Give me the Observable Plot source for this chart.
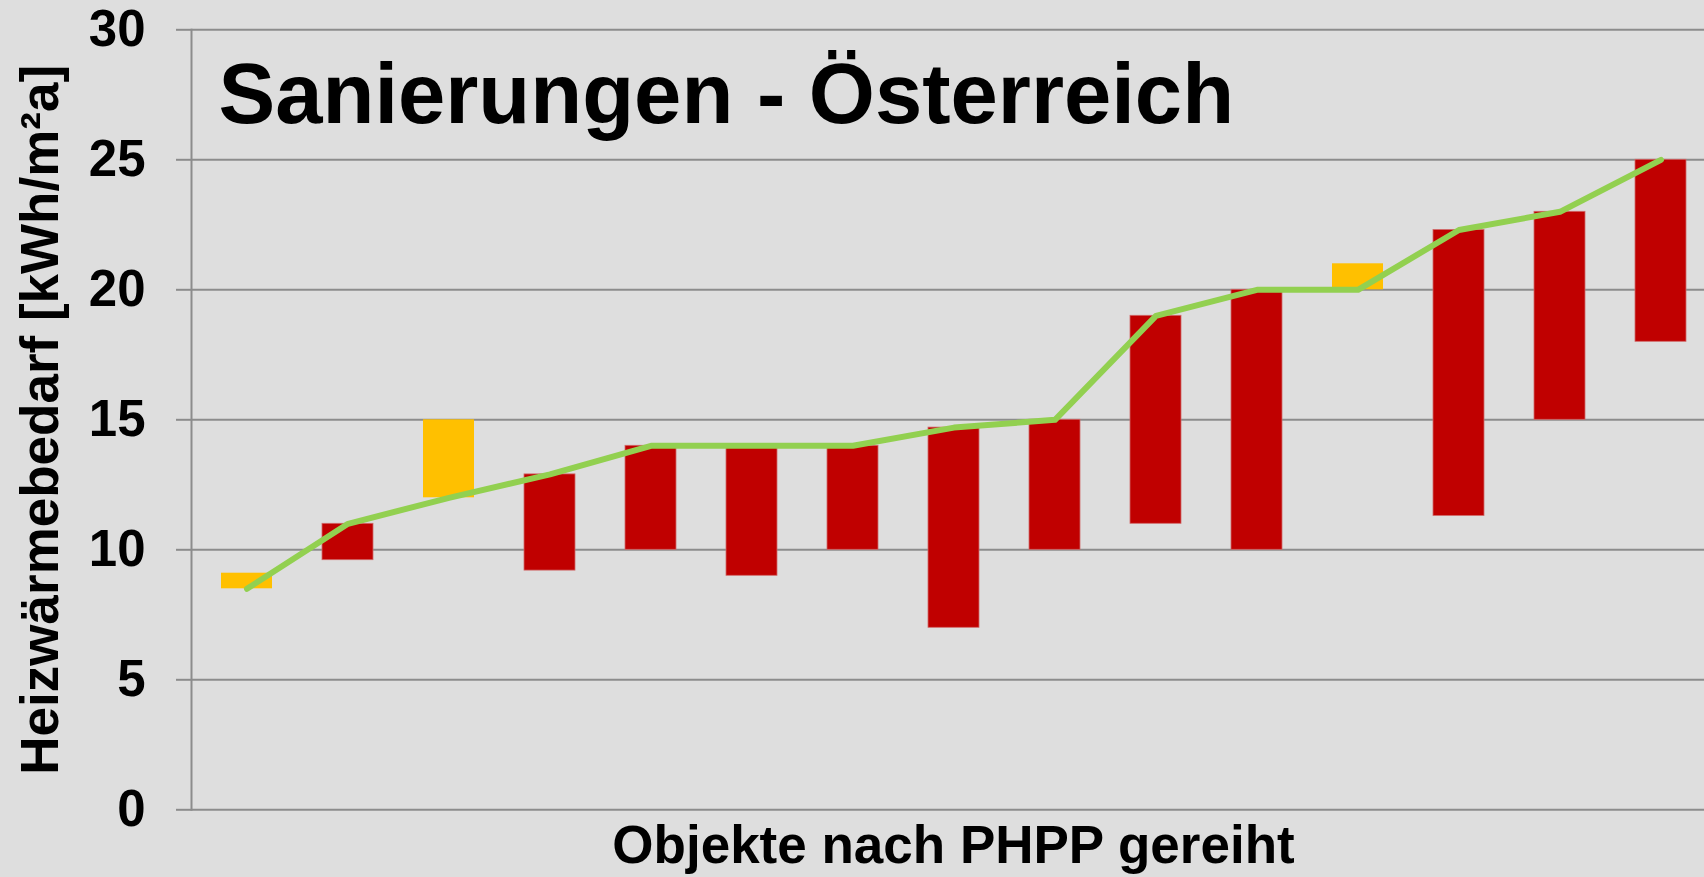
<!DOCTYPE html>
<html>
<head>
<meta charset="utf-8">
<script src="https://cdn.jsdelivr.net/npm/d3@7"></script>
<script src="https://cdn.jsdelivr.net/npm/@observablehq/plot@0.6"></script>
<style>
  html, body { margin: 0; padding: 0; background: #dedede; overflow: hidden; }
</style>
</head>
<body>
<div id="chart"></div>
<script>
// Data
const objekte  = ["1","2","3","4","5","6","7","8","9","10","11","12","13","14","15"];
const phpp     = [8.5, 11, 12, 12.9, 14, 14, 14, 14.7, 15, 19, 20, 20, 22.3, 23, 25];   // green line (PHPP)
const gemessen = [9.1, 9.6, 15, 9.2, 10, 9, 10, 7, 10, 11, 10, 21, 11.3, 15, 18];      // other end of each bar
const yTicks   = [0, 5, 10, 15, 20, 25, 30];

const title  = "Sanierungen - Österreich";
const xLabel = "Objekte nach PHPP gereiht";
const yLabel = "Heizwärmebedarf [kWh/m²a]";

const rows = objekte.map((o, i) => ({
  objekt: o,
  phpp: phpp[i],
  gemessen: gemessen[i],
  lo: Math.min(phpp[i], gemessen[i]),
  hi: Math.max(phpp[i], gemessen[i]),
  hoeher: gemessen[i] > phpp[i]
}));

const RED = "#c00000", YELLOW = "#ffc000", GREEN = "#92d050", GRID = "#8c8c8c";
const FONT = "'Liberation Sans', Arial, Helvetica, sans-serif";

const chart = Plot.plot({
  width: 1704,
  height: 877,
  marginLeft: 191,
  marginRight: -11,
  marginTop: 29.3,
  marginBottom: 67.7,
  style: { background: "#dedede", fontFamily: FONT, color: "black", overflow: "hidden" },
  x: { type: "band", domain: objekte, paddingInner: 0.5, paddingOuter: 0.25, axis: null },
  y: { domain: [0, 30], axis: null },
  marks: [
    Plot.gridY(yTicks, { stroke: GRID, strokeOpacity: 1, strokeWidth: 2 }),
    Plot.axisY({
      ticks: yTicks, tickSize: 15, tickPadding: 31, label: null,
      stroke: GRID, strokeWidth: 2, color: "black",
      fontSize: 51, fontWeight: "bold", tickFormat: d => String(d)
    }),
    Plot.frame({ anchor: "left", stroke: GRID, strokeWidth: 2 }),
    Plot.barY(rows.filter(d => !d.hoeher), { x: "objekt", y1: "lo", y2: "hi", fill: RED, stroke: "#d06a6a", strokeWidth: 0.8 }),
    Plot.barY(rows.filter(d => d.hoeher), { x: "objekt", y1: "lo", y2: "hi", fill: YELLOW }),
    Plot.lineY(rows, { x: "objekt", y: "phpp", stroke: GREEN, strokeWidth: 6, strokeLinejoin: "round", strokeLinecap: "round" }),
    Plot.text([title], {
      text: d => d, frameAnchor: "top-left", textAnchor: "start", lineAnchor: "bottom",
      dx: 27, dy: 92.7, fontSize: 85, fontWeight: "bold", fill: "black"
    }),
    Plot.text([xLabel], {
      text: d => d, frameAnchor: "bottom", textAnchor: "middle", lineAnchor: "bottom",
      dy: 53.5, fontSize: 53, fontWeight: "bold", fill: "black"
    }),
    Plot.text([yLabel], {
      text: d => d, frameAnchor: "left", textAnchor: "middle", lineAnchor: "bottom",
      rotate: -90, dx: -134, fontSize: 53, fontWeight: "bold", fill: "black"
    })
  ]
});

document.getElementById("chart").appendChild(chart);
</script>
</body>
</html>
